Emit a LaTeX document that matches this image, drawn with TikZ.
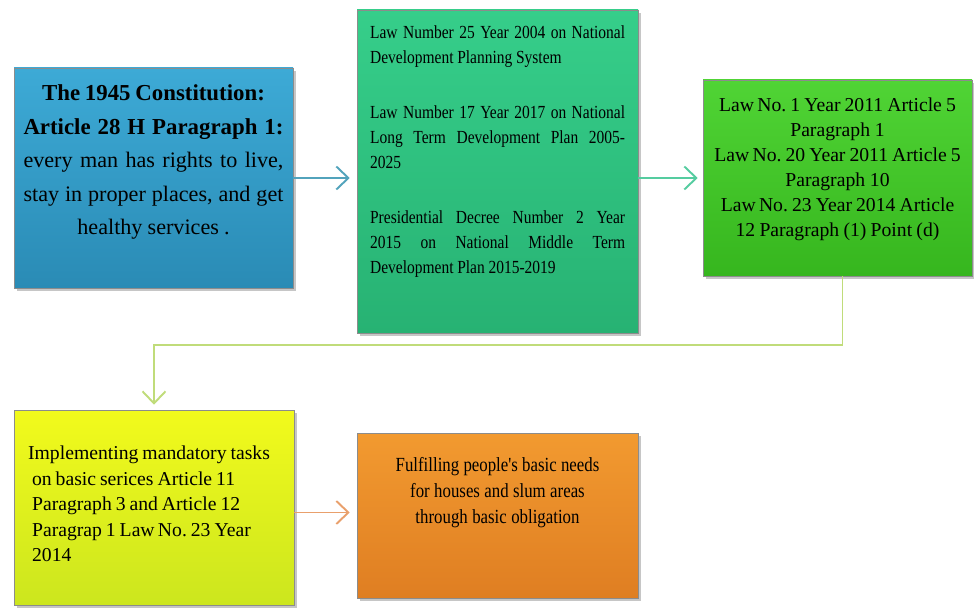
\documentclass[tikz,border=0pt]{standalone}
\usepackage{fontspec}
\setmainfont{Liberation Serif}
\newfontfamily\narrowfont[FakeStretch=0.84]{Liberation Serif}
\usetikzlibrary{arrows.meta,shadows}

\definecolor{blueTop}{HTML}{3DAAD6}
\definecolor{blueBot}{HTML}{2A8BB5}
\definecolor{tealTop}{HTML}{36CE8A}
\definecolor{tealBot}{HTML}{27B273}
\definecolor{greenTop}{HTML}{50D435}
\definecolor{greenBot}{HTML}{36B61E}
\definecolor{yellowTop}{HTML}{F2FA1C}
\definecolor{yellowBot}{HTML}{CCE61E}
\definecolor{orangeTop}{HTML}{F29A30}
\definecolor{orangeBot}{HTML}{DF7E22}
\definecolor{arrBlue}{HTML}{52A3BC}
\definecolor{arrTeal}{HTML}{55CCA0}
\definecolor{arrLime}{HTML}{C0DC7A}
\definecolor{arrOrange}{HTML}{E9A06C}

\begin{document}
\frenchspacing
\begin{tikzpicture}[
    box/.style={rectangle, inner sep=0pt, draw=black!45, line width=0.3pt,
        drop shadow={shadow xshift=0.05cm, shadow yshift=-0.06cm, opacity=0.45}},
    txt/.style={inner sep=0pt, execute at begin node={\spaceskip=0.2em plus 0.02em minus 0.05em\relax}},
    link/.style={line width=1.1pt, -{Straight Barb[length=0.24cm,width=0.46cm]}}]
    \useasboundingbox (0,0) rectangle (19.48,12.2);

    % boxes
    \node[box, top color=blueTop, bottom color=blueBot, minimum width=5.58cm, minimum height=4.4cm] (con) at (3.07,8.64) {};
    \node[box, top color=tealTop, bottom color=tealBot, minimum width=5.62cm, minimum height=6.46cm] (plan) at (9.95,8.77) {};
    \node[box, top color=greenTop, bottom color=greenBot, minimum width=5.38cm, minimum height=3.92cm] (law) at (16.75,8.64) {};
    \node[box, top color=yellowTop, bottom color=yellowBot, minimum width=5.6cm, minimum height=3.9cm] (task) at (3.08,2.05) {};
    \node[box, top color=orangeTop, bottom color=orangeBot, minimum width=5.62cm, minimum height=3.3cm] (need) at (9.95,1.89) {};

    % texts
    \node[txt, anchor=north, text width=5.2cm, align=center, font=\fontsize{13}{19}\selectfont] (contxt) at ([yshift=-0.34cm]con.north) {%
        {\bfseries The 1945 Constitution:}\\
        \makebox[5.2cm][s]{\bfseries Article 28 H Paragraph 1:}\\
        \fontsize{12.6}{19}\selectfont
        \makebox[5.2cm][s]{every man has rights to live,}\\
        \makebox[5.2cm][s]{stay in proper places, and get}\\
        healthy services .};
    \node[txt, anchor=north west, text width=5.1cm, align=left, font=\narrowfont\fontsize{10.5}{14.2}\selectfont] (plantxt) at ([xshift=0.26cm,yshift=-0.32cm]plan.north west) {%
        \makebox[5.1cm][s]{Law Number 25 Year 2004 on National}\\
        Development Planning System\\[17pt]
        \makebox[5.1cm][s]{Law Number 17 Year 2017 on National}\\
        \makebox[5.1cm][s]{Long Term Development Plan 2005-}\\
        2025\\[17pt]
        \makebox[5.1cm][s]{Presidential Decree Number 2 Year}\\
        \makebox[5.1cm][s]{2015 on National Middle Term}\\
        Development Plan 2015-2019};
    \node[txt, anchor=north, text width=5.2cm, align=center, font=\fontsize{11.2}{14.2}\selectfont] (lawtxt) at ([yshift=-0.36cm]law.north) {%
        Law\,No. 1 Year 2011 Article 5\\
        Paragraph 1\\
        Law\,No. 20 Year 2011 Article 5\\
        Paragraph 10\\
        Law\,No. 23 Year 2014 Article\\
        12 Paragraph (1) Point (d)};
    \node[txt, anchor=north west, text width=5.1cm, align=left, font=\fontsize{11.2}{14.5}\selectfont] (tasktxt) at ([xshift=0.28cm,yshift=-0.72cm]task.north west) {%
        Implementing mandatory tasks\\
        \hspace*{0.08cm}on basic serices Article 11\\
        \hspace*{0.08cm}Paragraph 3 and Article 12\\
        \hspace*{0.08cm}Paragrap 1 Law\,No. 23 Year\\
        \hspace*{0.08cm}2014};
    \node[txt, anchor=north, text width=5cm, align=center, font=\narrowfont\fontsize{11.4}{15}\selectfont] (needtxt) at ([yshift=-0.48cm]need.north) {%
        Fulfilling people's basic needs\\
        for houses and slum areas\\
        through basic obligation};

    % connectors
    \coordinate (turn) at (0,5.3);
    \coordinate (taskout) at ([yshift=-0.1cm]task.east);
    \draw[link, draw=arrBlue, shorten >=0.14cm] (con.east) -- (plan.west |- con.east);
    \draw[link, draw=arrTeal, shorten >=0.1cm] (plan.east |- law.west) -- (law.west);
    \draw[link, draw=arrLime, shorten >=0.1cm] ([xshift=0.1cm]law.south) -- ([xshift=0.1cm]law.south |- turn) -| (task.north);
    \draw[link, draw=arrOrange, shorten >=0.14cm] (taskout) -- (need.west |- taskout);
\end{tikzpicture}
\end{document}
